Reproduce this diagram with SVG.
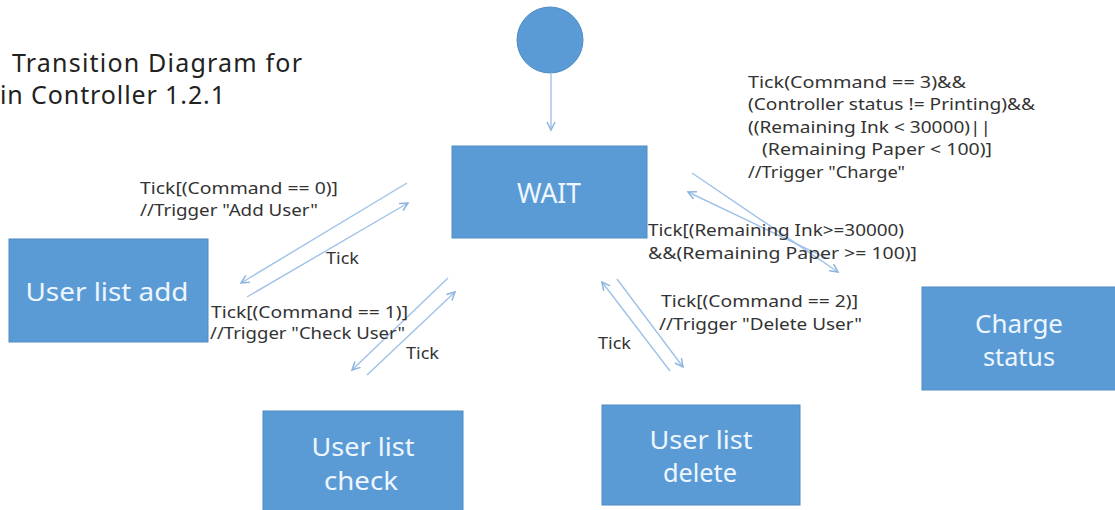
<svg xmlns="http://www.w3.org/2000/svg" width="1115" height="510" viewBox="0 0 1115 510">
<defs>
<marker id="arr" markerUnits="userSpaceOnUse" markerWidth="12" markerHeight="12" refX="9" refY="5" orient="auto">
<path d="M1,1 L9,5 L1,9" fill="none" stroke="#8fb4de" stroke-width="1.5"/>
</marker>
<style>
.box{fill:#5b9bd5;stroke:#4f8bc4;stroke-width:1}
.bt{font-family:"Noto Sans","Liberation Sans",sans-serif;fill:#eef6ff;text-anchor:middle}
.lb{font-family:"Noto Sans","Liberation Sans",sans-serif;font-size:16.5px;fill:#333}
.tt{font-family:"Noto Sans","Liberation Sans",sans-serif;font-size:25px;fill:#222}
.cn{stroke:#9fc2e8;stroke-width:1.4;fill:none;marker-end:url(#arr)}
</style>
</defs>
<rect width="1115" height="510" fill="#ffffff"/>
<g id="title">
<text class="tt" x="12" y="72" textLength="290" lengthAdjust="spacing">Transition Diagram for</text>
<text class="tt" x="0" y="104" textLength="225" lengthAdjust="spacing">in Controller 1.2.1</text>
</g>
<g id="connectors">
<line class="cn" x1="551" y1="74" x2="551" y2="130"/>
<line class="cn" x1="407" y1="183" x2="241" y2="283"/>
<line class="cn" x1="247" y1="297" x2="408" y2="203"/>
<line class="cn" x1="448" y1="278" x2="352" y2="370"/>
<line class="cn" x1="367" y1="375" x2="455" y2="292"/>
<line class="cn" x1="670" y1="371" x2="602" y2="282"/>
<line class="cn" x1="617" y1="279" x2="683" y2="367"/>
<line class="cn" x1="692" y1="173" x2="838" y2="272"/>
<line class="cn" x1="826" y1="258" x2="688" y2="192"/>
</g>
<g id="labels">
<text class="lb" x="140" y="194" textLength="198" lengthAdjust="spacingAndGlyphs">Tick[(Command == 0)]</text>
<text class="lb" x="140" y="216" textLength="178" lengthAdjust="spacingAndGlyphs">//Trigger "Add User"</text>
<text class="lb" x="326" y="264" textLength="33" lengthAdjust="spacingAndGlyphs">Tick</text>
<text class="lb" x="211" y="318" textLength="197" lengthAdjust="spacingAndGlyphs">Tick[(Command == 1)]</text>
<text class="lb" x="210" y="339" textLength="195" lengthAdjust="spacingAndGlyphs">//Trigger "Check User"</text>
<text class="lb" x="406" y="359" textLength="33" lengthAdjust="spacingAndGlyphs">Tick</text>
<text class="lb" x="661" y="307" textLength="197" lengthAdjust="spacingAndGlyphs">Tick[(Command == 2)]</text>
<text class="lb" x="659" y="330" textLength="203" lengthAdjust="spacingAndGlyphs">//Trigger "Delete User"</text>
<text class="lb" x="598" y="349" textLength="33" lengthAdjust="spacingAndGlyphs">Tick</text>
<text class="lb" x="648" y="236" textLength="256" lengthAdjust="spacingAndGlyphs">Tick[(Remaining Ink&gt;=30000)</text>
<text class="lb" x="648" y="259" textLength="269" lengthAdjust="spacingAndGlyphs">&amp;&amp;(Remaining Paper &gt;= 100)]</text>
<text class="lb" x="748" y="88" textLength="218" lengthAdjust="spacingAndGlyphs">Tick(Command == 3)&amp;&amp;</text>
<text class="lb" x="748" y="110" textLength="287" lengthAdjust="spacingAndGlyphs">(Controller status != Printing)&amp;&amp;</text>
<text class="lb" x="748" y="133" textLength="243" lengthAdjust="spacingAndGlyphs">((Remaining Ink &lt; 30000)||</text>
<text class="lb" x="762" y="155" textLength="230" lengthAdjust="spacingAndGlyphs">(Remaining Paper &lt; 100)]</text>
<text class="lb" x="748" y="178" textLength="157" lengthAdjust="spacingAndGlyphs">//Trigger "Charge"</text>
</g>
<g id="initial">
<circle cx="550" cy="40" r="33" fill="#5b9bd5" stroke="#4f8bc4" stroke-width="1"/>
</g>
<g id="wait">
<rect class="box" x="452" y="146" width="195" height="92"/>
<text class="bt" x="549" y="203" font-size="27" textLength="64" lengthAdjust="spacingAndGlyphs">WAIT</text>
</g>
<g id="user-list-add">
<rect class="box" x="9" y="239" width="199" height="103"/>
<text class="bt" x="107" y="301" font-size="26" textLength="163" lengthAdjust="spacingAndGlyphs">User list add</text>
</g>
<g id="user-list-check">
<rect class="box" x="263" y="411" width="200" height="104"/>
<text class="bt" x="363" y="456" font-size="25" textLength="103" lengthAdjust="spacingAndGlyphs">User list</text>
<text class="bt" x="361" y="490" font-size="25" textLength="74" lengthAdjust="spacingAndGlyphs">check</text>
</g>
<g id="user-list-delete">
<rect class="box" x="602" y="405" width="198" height="100"/>
<text class="bt" x="701" y="449" font-size="25" textLength="103" lengthAdjust="spacingAndGlyphs">User list</text>
<text class="bt" x="700" y="482" font-size="25" textLength="74" lengthAdjust="spacingAndGlyphs">delete</text>
</g>
<g id="charge-status">
<rect class="box" x="922" y="287" width="200" height="103"/>
<text class="bt" x="1019" y="333" font-size="25" textLength="88" lengthAdjust="spacingAndGlyphs">Charge</text>
<text class="bt" x="1019" y="366" font-size="25" textLength="72" lengthAdjust="spacingAndGlyphs">status</text>
</g>
</svg>
